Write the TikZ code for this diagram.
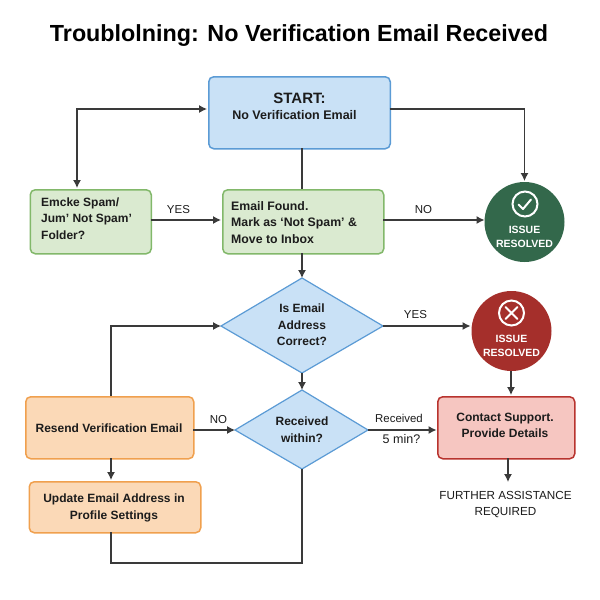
\documentclass[tikz,border=0pt]{standalone}
\usepackage{fontspec}
\setmainfont{Liberation Sans}
\usetikzlibrary{arrows.meta}
\definecolor{bluefill}{HTML}{C9E1F6}
\definecolor{blueline}{HTML}{5B9BD5}
\definecolor{greenfill}{HTML}{DAEAD0}
\definecolor{greenline}{HTML}{82B86A}
\definecolor{orangefill}{HTML}{FBD9B7}
\definecolor{orangeline}{HTML}{F0A04E}
\definecolor{redfill}{HTML}{F6C6C1}
\definecolor{redline}{HTML}{B8332E}
\definecolor{okcircle}{HTML}{33684B}
\definecolor{badcircle}{HTML}{A52F2B}
\definecolor{inkline}{HTML}{3A3A3A}
\definecolor{inktext}{HTML}{1C1C1C}
\tikzset{
  x=1pt,y=-1pt,
  box/.style={draw,line width=1.5pt,rounded corners=5pt,inner sep=0pt,anchor=north west},
  bluebox/.style={box,fill=bluefill,draw=blueline},
  greenbox/.style={box,fill=greenfill,draw=greenline},
  orangebox/.style={box,fill=orangefill,draw=orangeline},
  redbox/.style={box,fill=redfill,draw=redline},
  decision/.style={draw=blueline,fill=bluefill,line width=1.2pt,line join=miter},
  boxtext/.style={text=inktext,align=center,inner sep=0pt,font=\fontsize{12}{16.5}\selectfont\bfseries},
  lefttext/.style={boxtext,anchor=west,align=left},
  conn/.style={draw=inkline,line width=1.2pt,-{Latex[length=8pt,width=8pt]}},
  plain/.style={draw=inkline,line width=1.2pt},
  lab/.style={text=inktext,font=\fontsize{11.5}{14}\selectfont},
  badge/.style={circle,minimum size=80pt,inner sep=0pt},
  badgetext/.style={text=white,align=center,font=\fontsize{10.5}{14.5}\selectfont\bfseries},
  icon/.style={draw=white,line width=2pt},
}
\begin{document}
\begin{tikzpicture}
\useasboundingbox (0,0) rectangle (600,600);
\fill[white] (0,0) rectangle (600,600);
\node[font=\fontsize{23.3}{28}\selectfont\bfseries,text=black] (title) at (299,36) {Troublolning: No Verification Email Received};

% boxes
\node[bluebox,minimum width=181.5pt,minimum height=72pt] (start) at (208,76) {};
\node[boxtext,font=\fontsize{15}{18}\selectfont\bfseries] (starttext) at (299.5,98) {START:};
\node[boxtext,font=\fontsize{12.5}{18}\selectfont\bfseries] (starttext2) at (294.5,115.5) {No Verification Email};
\node[greenbox,minimum width=121pt,minimum height=64pt] (spam) at (29.5,189) {};
\node[lefttext,font=\fontsize{12}{16.3}\selectfont\bfseries] (spamtext) at (41,218.5) {Emcke Spam/\\Jum' Not Spam'\\Folder?};
\node[greenbox,minimum width=161pt,minimum height=64pt] (found) at (222,189) {};
\node[lefttext,font=\fontsize{12.3}{16.5}\selectfont\bfseries] (foundtext) at (231,222.5) {Email Found.\\Mark as ‘Not Spam’ \&\\Move to Inbox};
\node[orangebox,minimum width=168pt,minimum height=62pt] (resend) at (25,396) {};
\node[boxtext] (resendtext) at (109,428) {Resend Verification Email};
\node[orangebox,minimum width=171.5pt,minimum height=51pt] (update) at (28.5,481) {};
\node[boxtext] (updatetext) at (114,508) {Update Email Address in\\Profile Settings};
\node[redbox,minimum width=137pt,minimum height=62pt] (contact) at (437,396) {};
\node[boxtext] (contacttext) at (505,425.5) {Contact Support.\\Provide Details};

% decisions
\draw[decision] (221,326) coordinate (d1w) -- (302,278) coordinate (d1n) -- (383,326) coordinate (d1e) -- (302,373) coordinate (d1s) -- cycle;
\node[boxtext] (d1text) at (302,325) {Is Email\\Address\\Correct?};
\draw[decision] (235,430) coordinate (d2w) -- (302,390) coordinate (d2n) -- (368,430) coordinate (d2e) -- (302,469) coordinate (d2s) -- cycle;
\node[boxtext] (d2text) at (302,429.5) {Received\\within?};

% badges
\node[badge,fill=okcircle] (ok) at (524.5,222) {};
\draw[icon] (525,204) circle (12.5);
\draw[icon,line cap=round,line join=round] (518.5,204.5) -- (523,209) -- (531,199.5);
\node[badgetext] (oktext) at (524.5,237) {ISSUE\\RESOLVED};
\node[badge,fill=badcircle] (bad) at (511.5,331) {};
\draw[icon] (511.5,313) circle (12.5);
\draw[icon,line cap=round] (505.5,307) -- (517.5,319) (517.5,307) -- (505.5,319);
\node[badgetext] (badtext) at (511.5,346) {ISSUE\\RESOLVED};

% helper coordinates
\coordinate (spamtop) at (77,188);
\coordinate (corner1) at (77,109);
\coordinate (startl) at (207,109);
\coordinate (startr) at (389.5,109);
\coordinate (oktop) at (524.5,181);
\coordinate (startb) at (302,148);
\coordinate (foundt) at (302,189);
\coordinate (foundb) at (302,253);
\coordinate (spamr) at (150.5,220);
\coordinate (foundl) at (221,220);
\coordinate (foundr) at (383,220);
\coordinate (okl) at (484.5,220);
\coordinate (badl) at (470.5,326);
\coordinate (badb) at (511,371);
\coordinate (contactt) at (511,395);
\coordinate (contactb) at (508,458);
\coordinate (furthertop) at (508,482);
\coordinate (resendt) at (111,396);
\coordinate (resendb) at (111,458);
\coordinate (updatet) at (111,480);
\coordinate (updateb) at (111,532);
\coordinate (bottomr) at (302,563);
\coordinate (resendr) at (193,430);
\coordinate (contactl) at (436.5,430);

% connectors
\draw[conn,{Latex[length=8pt,width=8pt]}-{Latex[length=8pt,width=8pt]}] (spamtop) -- (corner1) -- (startl);
\draw[conn] (startr) -| (oktop);
\draw[plain] (startb) -- (foundt);
\draw[conn] (spamr) -- (foundl);
\draw[conn] (foundr) -- (okl);
\draw[conn] (foundb) -- (d1n);
\draw[conn] (d1s) -- (d2n);
\draw[conn] (d1e) -- (badl);
\draw[conn] (badb) -- (contactt);
\draw[conn] (contactb) -- (furthertop);
\draw[conn] (resendt) |- (d1w);
\draw[conn] (resendb) -- (updatet);
\draw[conn] (resendr) -- (d2w);
\draw[conn] (d2e) -- (contactl);
\draw[plain] (updateb) |- (bottomr) -- (d2s);

% labels
\node[lab] (yes1) at (178.5,209.5) {YES};
\node[lab] (no1) at (423.5,209.5) {NO};
\node[lab] (yes2) at (415.5,314.5) {YES};
\node[lab] (no2) at (218.5,419.5) {NO};
\node[lab,font=\fontsize{11.4}{13}\selectfont] (recv) at (399,418) {Received};
\node[lab,font=\fontsize{12.5}{14}\selectfont] (fivemin) at (401.5,439.5) {5 min?};
\node[text=inktext,align=center,font=\fontsize{11.7}{16}\selectfont] (further) at (505.5,504.5) {FURTHER ASSISTANCE\\REQUIRED};
\end{tikzpicture}
\end{document}
